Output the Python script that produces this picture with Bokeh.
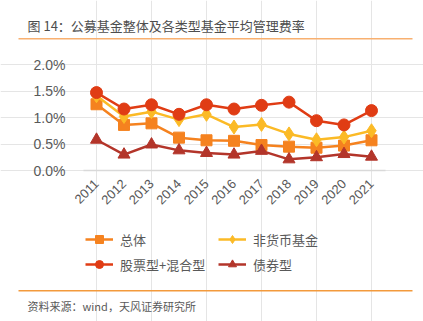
from bokeh.plotting import figure
from bokeh.models import (Range1d, FixedTicker, PrintfTickFormatter, Label, BoxAnnotation,
                          Legend, LegendItem, LinearAxis)
from bokeh.embed import file_html
from bokeh.resources import INLINE
import math

years = ["2011", "2012", "2013", "2014", "2015", "2016", "2017", "2018", "2019", "2020", "2021"]
overall = [1.25, 0.86, 0.89, 0.62, 0.57, 0.56, 0.48, 0.45, 0.43, 0.47, 0.57]
non_money = [1.41, 1.02, 1.11, 0.96, 1.06, 0.82, 0.87, 0.69, 0.58, 0.63, 0.75]
equity_mixed = [1.47, 1.16, 1.24, 1.06, 1.24, 1.16, 1.23, 1.29, 0.94, 0.86, 1.13]
bond = [0.58, 0.30, 0.49, 0.38, 0.33, 0.30, 0.37, 0.21, 0.25, 0.31, 0.26]
y_ticks = [0.0, 0.5, 1.0, 1.5, 2.0]

title_text = "图 14：公募基金整体及各类型基金平均管理费率"
source_text = "资料来源：wind，天风证券研究所"

W, H = 423, 321
# page-pixel layout of the plotting area
X0_PX, XSTEP = 96.0, 27.5      # first category position and step
Y0_PX, YSTEP = 170.0, 53.0     # 0% baseline and px per 1%
AX_L, AX_R = 83.0, 385.0

x_start = -X0_PX / XSTEP
x_end = x_start + W / XSTEP
y_start = -(H - Y0_PX) / YSTEP
y_end = y_start + H / YSTEP

p = figure(width=W, height=H, output_backend="svg", toolbar_location=None,
           x_range=Range1d(x_start, x_end), y_range=Range1d(y_start, y_end),
           min_border=0, x_axis_location=None, y_axis_location=None)
p.outline_line_color = None
p.background_fill_color = "white"
p.border_fill_color = "white"

xs = list(range(len(years)))
ax_lo = (AX_L - X0_PX) / XSTEP
ax_hi = (AX_R - X0_PX) / XSTEP

xaxis = LinearAxis(fixed_location=0, bounds=(ax_lo, ax_hi))
xaxis.ticker = FixedTicker(ticks=xs)
xaxis.major_label_overrides = {i: y for i, y in enumerate(years)}
xaxis.major_label_orientation = math.pi / 4
xaxis.axis_line_color = "#D9D9D9"
xaxis.axis_line_width = 1.5
xaxis.major_tick_line_color = None
xaxis.minor_tick_line_color = None
xaxis.major_label_text_font = "Liberation Sans"
xaxis.major_label_text_font_size = "13px"
xaxis.major_label_text_color = "#595959"
xaxis.major_label_standoff = 5
p.add_layout(xaxis, "below")

yaxis = LinearAxis(fixed_location=ax_lo, bounds=(0, 2.0))
yaxis.ticker = FixedTicker(ticks=y_ticks)
yaxis.formatter = PrintfTickFormatter(format="%.1f%%")
yaxis.axis_line_color = None
yaxis.major_tick_line_color = None
yaxis.minor_tick_line_color = None
yaxis.major_label_text_font = "Liberation Sans"
yaxis.major_label_text_font_size = "14px"
yaxis.major_label_text_color = "#595959"
yaxis.major_label_standoff = 12
p.add_layout(yaxis, "left")

series = [
    ("总体", overall, "#F5821F", "square", 11),
    ("非货币基金", non_money, "#FBBA26", "diamond", 14),
    ("股票型+混合型", equity_mixed, "#E03C14", "circle", 12),
    ("债券型", bond, "#B3352A", "triangle", 12),
]
items = []
for name, vals, col, mk, sz in series:
    l = p.line(xs, vals, line_color=col, line_width=2.5)
    s = p.scatter(xs, vals, marker=mk, size=sz, fill_color=col, line_color=col)
    items.append(LegendItem(label=name, renderers=[l, s]))

legend = Legend(items=items, ncols=2, location=(85, H - 274), orientation="horizontal",
                glyph_width=28, glyph_height=20, label_standoff=7, spacing=5, label_width=93,
                label_text_font="Noto Sans CJK SC", label_text_font_size="13px",
                label_text_color="#595959", border_line_color=None,
                background_fill_alpha=0, padding=0, margin=0)
p.add_layout(legend, "center")

p.add_layout(Label(x=27, y=H - 25, x_units="screen", y_units="screen", text=title_text,
                   text_font="Noto Sans CJK SC", text_font_size="13px", text_font_style="normal",
                   text_color="#4D4D4D", text_baseline="middle"))
p.add_layout(BoxAnnotation(left=18, right=412, top=H - 37.5, bottom=H - 39,
                           left_units="screen", right_units="screen",
                           top_units="screen", bottom_units="screen",
                           fill_color="#F8B070", fill_alpha=1, line_color=None))
p.add_layout(BoxAnnotation(left=18, right=412, top=H - 289.5, bottom=H - 291,
                           left_units="screen", right_units="screen",
                           top_units="screen", bottom_units="screen",
                           fill_color="#F39A3C", fill_alpha=1, line_color=None))
p.add_layout(Label(x=27, y=H - 305, x_units="screen", y_units="screen", text=source_text,
                   text_font="Noto Sans CJK SC", text_font_size="11px",
                   text_color="#595959", text_baseline="middle"))

open("out.html", "w").write(file_html(p, INLINE))
